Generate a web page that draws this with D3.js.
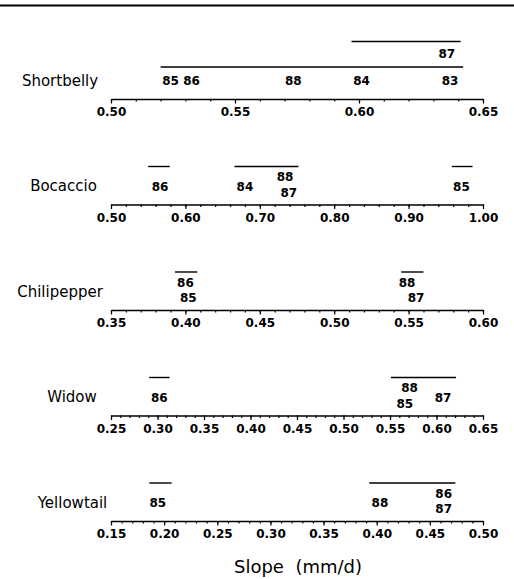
<!DOCTYPE html>
<html>
<head>
<meta charset="utf-8">
<script src="https://cdn.jsdelivr.net/npm/d3@7"></script>
<style>
  body { margin: 0; background: #fff; }
  text { font-family: "DejaVu Sans", sans-serif; fill: #000; }
</style>
</head>
<body>
<div id="chart"></div>
<script>
// species and their axis domains
var species = ["Shortbelly", "Bocaccio", "Chilipepper", "Widow", "Yellowtail"];
var domains = [[0.50, 0.65], [0.50, 1.00], [0.35, 0.60], [0.25, 0.65], [0.15, 0.50]];
var majorSteps = [0.05, 0.10, 0.05, 0.05, 0.05];
var minorSteps = [0.01, 0.02, 0.01, 0.01, 0.01];

// year labels at their slope; row: 0 single, 1 stacked top, -1 stacked bottom, 2 second tier
var yearLabels = [
  [{year: "85", slope: 0.524, row: 0}, {year: "86", slope: 0.5325, row: 0},
   {year: "88", slope: 0.5735, row: 0}, {year: "84", slope: 0.601, row: 0},
   {year: "83", slope: 0.6367, row: 0}, {year: "87", slope: 0.6354, row: 2}],
  [{year: "86", slope: 0.566, row: 0}, {year: "84", slope: 0.680, row: 0},
   {year: "88", slope: 0.734, row: 1}, {year: "87", slope: 0.739, row: -1},
   {year: "85", slope: 0.971, row: 0}],
  [{year: "86", slope: 0.400, row: 1}, {year: "85", slope: 0.402, row: -1},
   {year: "88", slope: 0.549, row: 1}, {year: "87", slope: 0.555, row: -1}],
  [{year: "86", slope: 0.302, row: 0}, {year: "88", slope: 0.571, row: 1},
   {year: "85", slope: 0.566, row: -1}, {year: "87", slope: 0.607, row: 0}],
  [{year: "85", slope: 0.194, row: 0}, {year: "88", slope: 0.403, row: 0},
   {year: "86", slope: 0.463, row: 1}, {year: "87", slope: 0.463, row: -1}]
];

// lines joining years that do not differ: [from, to, level]
var groupLines = [
  [[0.520, 0.642, 0], [0.597, 0.641, 1]],
  [[0.550, 0.579, 0], [0.666, 0.752, 0], [0.958, 0.986, 0]],
  [[0.393, 0.408, 0], [0.545, 0.560, 0]],
  [[0.291, 0.313, 0], [0.551, 0.621, 0]],
  [[0.186, 0.207, 0], [0.393, 0.474, 0]]
];

var axisTitle = "Slope  (mm/d)";

var W = 514, H = 579;
var svg = d3.select("#chart").append("svg")
    .attr("width", W)
    .attr("height", H);

// rule along the top
svg.append("line")
    .attr("x1", 0).attr("x2", W)
    .attr("y1", 5.5).attr("y2", 5.5)
    .attr("stroke", "#000")
    .attr("stroke-width", 2.2);

// vertical position of each panel's axis
var panelY = d3.scaleLinear().domain([0, 4]).range([99, 521]);
var nameX = [60, 63.5, 60, 72, 72.5];
var rowOffset = {"0": -14, "1": -23.5, "-1": -8, "2": -41.5};

species.forEach(function(name, i) {
  var y0 = panelY(i);
  var x = d3.scaleLinear().domain(domains[i]).range([111, 483]);
  var g = svg.append("g");

  // minor ticks
  var minor = d3.range(domains[i][0], domains[i][1] + 1e-9, minorSteps[i]);
  g.append("g")
      .attr("transform", "translate(0," + y0 + ")")
      .call(d3.axisBottom(x).tickValues(minor).tickSize(2.5).tickFormat(""))
      .call(function(a) { a.select(".domain").remove(); });

  // major ticks with labels
  var major = d3.range(domains[i][0], domains[i][1] + 1e-9, majorSteps[i]);
  var ax = g.append("g")
      .attr("transform", "translate(0," + y0 + ")")
      .call(d3.axisBottom(x).tickValues(major).tickSize(4.5).tickSizeOuter(0)
        .tickPadding(4).tickFormat(d3.format(".2f")));
  ax.select(".domain").attr("stroke-width", 1.6);
  ax.selectAll("line").attr("stroke-width", 1.3);
  ax.selectAll("text")
      .style("font-family", "'DejaVu Sans', sans-serif")
      .style("font-size", "12px")
      .style("font-weight", "bold");
  g.selectAll(".tick line").attr("stroke-width", 1.2);

  // species name
  g.append("text")
      .attr("x", nameX[i])
      .attr("y", y0 - 13.5)
      .attr("text-anchor", "middle")
      .style("font-size", "15px")
      .text(name);

  var stacked = yearLabels[i].some(function(d) { return d.row === 1 || d.row === -1; });

  // group lines
  g.selectAll(".grp")
    .data(groupLines[i])
    .enter().append("line")
      .attr("x1", function(d) { return x(d[0]); })
      .attr("x2", function(d) { return x(d[1]); })
      .attr("y1", function(d) { return y0 + (d[2] === 1 ? -57.5 : (stacked ? -38 : -32)); })
      .attr("y2", function(d) { return y0 + (d[2] === 1 ? -57.5 : (stacked ? -38 : -32)); })
      .attr("stroke", "#000")
      .attr("stroke-width", 1.4);

  // year labels
  g.selectAll(".yr")
    .data(yearLabels[i])
    .enter().append("text")
      .attr("x", function(d) { return x(d.slope); })
      .attr("y", function(d) { return y0 + rowOffset[String(d.row)]; })
      .attr("text-anchor", "middle")
      .style("font-size", "12px")
      .style("font-weight", "bold")
      .text(function(d) { return d.year; });
});

// axis title
svg.append("text")
    .attr("x", 298)
    .attr("y", 573)
    .attr("text-anchor", "middle")
    .attr("xml:space", "preserve")
    .style("white-space", "pre")
    .style("font-size", "18px")
    .text(axisTitle);
</script>
</body>
</html>
